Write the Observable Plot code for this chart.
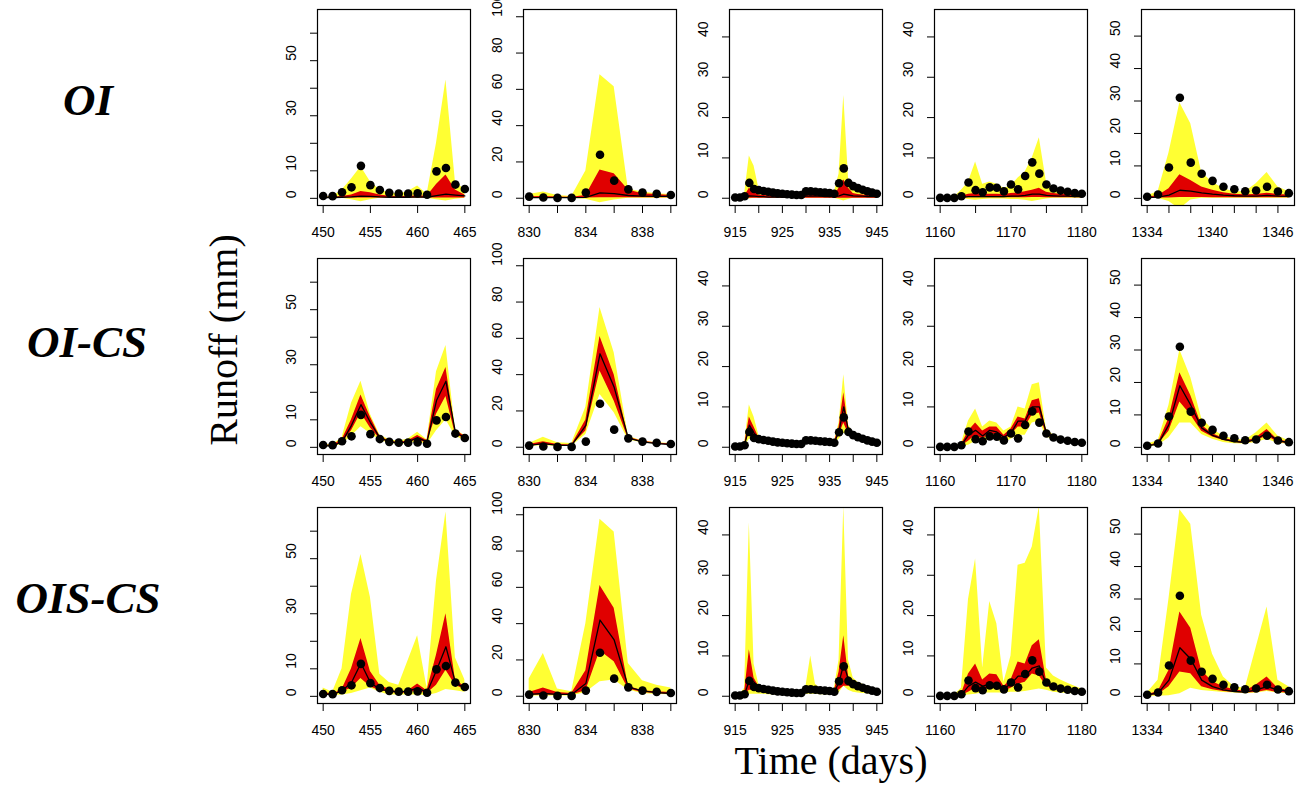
<!DOCTYPE html>
<html>
<head>
<meta charset="utf-8">
<script src="https://cdn.jsdelivr.net/npm/d3@7"></script>
<script src="https://cdn.jsdelivr.net/npm/@observablehq/plot@0.6"></script>
<style>
  body { margin: 0; background: #fff; }
  #wrap { position: relative; width: 1305px; height: 785px; overflow: hidden; background: #fff; }
  .lbl { position: absolute; font-family: "Liberation Serif", "Times New Roman", serif; line-height: 1; white-space: nowrap; color: #000; }
  .row { font-weight: bold; font-style: italic; font-size: 45px; transform: translate(-50%, -50%); }
  .axt { font-size: 40px; }
</style>
</head>
<body>
<div id="wrap">
  <div class="lbl row" style="left:88px; top:100px;">OI</div>
  <div class="lbl row" style="left:87px; top:342px;">OI-CS</div>
  <div class="lbl row" style="left:88px; top:598px;">OIS-CS</div>
  <div class="lbl axt" style="left:224px; top:340px; transform: translate(-50%, -50%) rotate(-90deg);">Runoff (mm)</div>
  <div class="lbl axt" style="left:831px; top:761px; transform: translate(-50%, -50%);">Time (days)</div>
</div>
<script>
// ---------- Data ----------
const methods = ["OI", "OI-CS", "OIS-CS"];

// Column 1: days 450-465
const days_450 = [450,451,452,453,454,455,456,457,458,459,460,461,462,463,464,465];
const obs_450  = [0.85,0.8,2.2,4,11.8,4.8,3,2,1.7,1.7,1.8,1.3,9.8,11,5,3.4];
const OI_450_mid   = [0.3,0.3,0.4,0.5,0.8,0.7,0.5,0.4,0.4,0.4,0.5,0.4,1.0,1.5,1.2,0.9];
const OI_450_redLo = [0.1,0.1,0.1,0.1,0.1,0.1,0.1,0.1,0.1,0.1,0.1,0.1,0.1,0.1,0.1,0.1];
const OI_450_redHi = [0.4,0.4,0.7,1.2,2.5,2,1.2,0.8,0.7,0.7,0.9,0.8,5,8.5,3,1.2];
const OI_450_yelLo = [0,0,0,-0.5,-1.2,-0.5,0,0,0,0,0,0,-0.5,-1,-0.3,0];
const OI_450_yelHi = [0.6,0.6,3,7,11.5,6,3,2,1.5,2.5,4.5,1.5,20,43,6,3];
const OICS_450_mid   = [0.5,0.5,2,8,15.5,9,3.5,2,1.5,2,3.5,2,17,24,5.5,3.5];
const OICS_450_redLo = [0.3,0.3,1.5,6,12.5,7,3,1.8,1.3,1.7,2.8,1.5,12,18.5,4.8,3];
const OICS_450_redHi = [0.8,0.8,2.8,10,19,11,4,2.3,1.8,2.4,4.3,2.5,21,29,6.2,4];
const OICS_450_yelLo = [0.2,0.2,1,4,7.5,5,2.5,1.5,1,1.3,2,1,6,10,4,2.5];
const OICS_450_yelHi = [1,1,3.5,16,24,12,4.5,2.8,2.2,3,5.5,2.8,27.5,37,6.5,4.2];
const OISCS_450_mid   = [0.8,0.6,2,5,12,5,2.5,2,1.5,2,3,1.5,9.5,18,5,3];
const OISCS_450_redLo = [0.6,0.5,1.5,3,6.5,3.5,2,1.5,1,1.2,2,1,4,9.5,4,2.5];
const OISCS_450_redHi = [1.5,0.8,2.5,10,21,9,4,2.5,1.5,2,4.5,2,15,30,6,3.5];
const OISCS_450_yelLo = [0.5,0.3,0.5,1,2,3,1.5,0.5,0.5,0.5,0.5,0.3,1,2.5,2,1.5];
const OISCS_450_yelHi = [3,1.5,10,37,51.5,36,8,5,4,13,22,3,42,67,14,6];

// Column 2: days 830-840
const days_830 = [830,831,832,833,834,835,836,837,838,839,840];
const obs_830  = [0.9,0.4,0.2,0.2,3.1,24,9.7,4.9,3.1,2.4,1.8];
const OI_830_mid   = [0.3,0.3,0.3,0.3,0.5,3,2.5,1.5,1.2,1,1];
const OI_830_redLo = [0,0,0,0,0.1,0.3,0.3,0.3,0.3,0.3,0.3];
const OI_830_redHi = [0.8,1,0.7,0.5,1.5,15.5,13.5,4.5,2.5,2,1.5];
const OI_830_yelLo = [0,0,0,0,-0.5,-2.5,-1,0,0,0,0];
const OI_830_yelHi = [2,3.5,1.5,1,15,68,61.5,5,3.5,2.5,2];
const OICS_830_mid   = [1,2,1,1,12,51.5,33,5,3,2,1.5];
const OICS_830_redLo = [0.7,1.2,0.8,0.8,9,42,25.5,4.5,2.7,1.8,1.3];
const OICS_830_redHi = [1.5,3,1.5,1.3,15,61,40,5.5,3.3,2.3,1.8];
const OICS_830_yelLo = [0.5,0.8,0.5,0.5,7,29,19,4,2.5,1.6,1.2];
const OICS_830_yelHi = [2,5.5,2.5,2,22,77,52,6,3.5,2.5,2];
const OISCS_830_mid   = [1,1.5,1,1,7,42,31,5,3,2,1.5];
const OISCS_830_redLo = [0.5,0.7,0.7,0.7,3,25,19,4,2,1.5,1];
const OISCS_830_redHi = [2,4.5,2,1.5,14,61,48.5,5.5,3,2.5,2];
const OISCS_830_yelLo = [0.2,0.2,0.2,0.2,2,8,9,3.5,1.5,1,0.8];
const OISCS_830_yelHi = [9.5,23.5,4,2.5,40,97.5,90.5,18,8.5,6,4.5];

// Column 3: days 915-945
const days_915 = [915,916,917,918,919,920,921,922,923,924,925,926,927,928,929,930,931,932,933,934,935,936,937,938,939,940,941,942,943,944,945];
const obs_915  = [0.2,0.2,0.5,3.8,2.3,2.0,1.8,1.6,1.4,1.2,1.1,1.0,0.9,0.8,0.8,1.7,1.7,1.6,1.5,1.4,1.3,1.1,3.7,7.4,3.8,3.0,2.5,2.1,1.7,1.4,1.1];
const OI_915_mid   = [0.1,0.1,0.2,0.6,0.5,0.4,0.4,0.3,0.3,0.3,0.3,0.3,0.3,0.3,0.3,0.5,0.5,0.5,0.5,0.4,0.4,0.4,0.6,1.0,0.8,0.6,0.5,0.5,0.4,0.4,0.4];
const OI_915_redLo = [0,0,0,0,0,0,0,0,0,0,0,0,0,0,0,0,0,0,0,0,0,0,0,0,0,0,0,0,0,0,0];
const OI_915_redHi = [0.2,0.2,0.5,2.5,1.5,0.8,0.7,0.6,0.6,0.5,0.5,0.5,0.5,0.5,0.5,0.8,0.8,0.8,0.8,0.7,0.7,0.7,2.5,4.5,2.5,1.2,0.9,0.8,0.7,0.7,0.6];
const OI_915_yelLo = [0,0,0,-0.2,0,0,0,0,0,0,0,0,0,0,0,0,0,0,0,0,0,0,-0.3,-0.7,-0.3,0,0,0,0,0,0];
const OI_915_yelHi = [0.3,0.3,1,10.5,8,2.5,1.5,1.2,1.1,1,1,0.9,0.9,0.9,0.9,1.3,1.3,1.2,1.2,1.1,1.1,1.5,6,25.5,5,2,1.5,1.3,1.2,1.1,1];
const OICS_915_mid   = [0.2,0.2,0.5,5.5,3.5,2.1,1.8,1.6,1.4,1.2,1.1,1.0,0.9,0.8,0.8,1.6,1.7,1.6,1.5,1.4,1.3,1.1,4.0,10.0,4.0,3.0,2.5,2.1,1.7,1.4,1.1];
const OICS_915_redLo = [0.1,0.1,0.4,3.5,2.5,1.9,1.7,1.5,1.3,1.1,1.0,0.9,0.8,0.7,0.7,1.5,1.6,1.5,1.4,1.3,1.2,1.0,3.0,6.0,3.3,2.8,2.3,2.0,1.6,1.3,1.0];
const OICS_915_redHi = [0.3,0.3,0.7,7.5,5.0,2.4,2.0,1.8,1.6,1.4,1.3,1.2,1.1,1.0,1.0,1.8,1.9,1.8,1.7,1.6,1.5,1.3,5.0,13.5,5.0,3.3,2.7,2.3,1.9,1.6,1.3];
const OICS_915_yelLo = [0,0,0.2,2.0,2.0,1.7,1.5,1.3,1.2,1.0,0.9,0.8,0.7,0.6,0.6,1.3,1.4,1.3,1.2,1.1,1.0,0.9,2.0,3.5,3.0,2.6,2.1,1.8,1.5,1.2,0.9];
const OICS_915_yelHi = [0.4,0.4,1.0,10.5,7.5,3.0,2.2,2.0,1.8,1.6,1.5,1.4,1.3,1.2,1.2,2.0,2.1,2.0,1.9,1.8,1.7,1.5,6.0,18.0,5.5,3.6,3.0,2.5,2.1,1.8,1.5];
const OISCS_915_mid   = [0.2,0.2,0.5,4,3.5,2.1,1.8,1.6,1.4,1.2,1.1,1.0,0.9,0.8,0.8,1.6,1.7,1.6,1.5,1.4,1.3,1.1,3.5,8,4,3,2.5,2.1,1.7,1.4,1.1];
const OISCS_915_redLo = [0.1,0.1,0.3,1.5,1.5,1.5,1.4,1.2,1.1,1.0,0.9,0.8,0.7,0.6,0.6,1.3,1.4,1.3,1.2,1.1,1.0,0.9,1.5,2.5,2.5,2.4,2.1,1.8,1.4,1.2,0.9];
const OISCS_915_redHi = [0.3,0.3,1,11.5,4.5,2.5,2.2,1.9,1.7,1.5,1.3,1.2,1.1,1.0,1.0,1.9,1.9,1.8,1.7,1.6,1.5,1.3,6,15,5,3.5,2.8,2.4,2,1.6,1.3];
const OISCS_915_yelLo = [0,0,0.1,0.5,0.5,0.5,0.5,0.4,0.4,0.3,0.3,0.3,0.3,0.3,0.3,0.5,0.5,0.5,0.4,0.4,0.4,0.3,0.8,2.5,1.5,1,0.8,0.7,0.6,0.5,0.4];
const OISCS_915_yelHi = [0.3,0.3,2,43,8,3,2.3,2,1.8,1.6,1.5,1.3,1.2,1.1,1.5,2.5,10,3,2,1.8,1.7,2,9,47,9,4.5,3.5,3,2.5,2,1.5];

// Column 4: days 1160-1180
const days_1160 = [1160,1161,1162,1163,1164,1165,1166,1167,1168,1169,1170,1171,1172,1173,1174,1175,1176,1177,1178,1179,1180];
const obs_1160  = [0.1,0.1,0.1,0.5,3.9,2.0,1.5,2.7,2.6,1.7,3.4,2.2,5.5,8.9,6.1,3.4,2.4,1.9,1.6,1.3,1.1];
const OI_1160_mid   = [0.1,0.1,0.1,0.2,0.4,0.4,0.4,0.4,0.4,0.4,0.5,0.5,0.7,1.0,1.0,0.7,0.6,0.5,0.5,0.4,0.4];
const OI_1160_redLo = [0,0,0,0,0.1,0.1,0.1,0.1,0.1,0.1,0.1,0.1,0.1,0.2,0.2,0.1,0.1,0.1,0.1,0.1,0.1];
const OI_1160_redHi = [0.2,0.2,0.2,0.5,1.0,1.2,1.0,1.0,1.0,0.9,1.2,1.3,1.6,2.0,2.5,1.5,1.2,1.0,0.9,0.8,0.8];
const OI_1160_yelLo = [0,0,0,0,-0.3,-0.5,-0.3,-0.2,-0.2,-0.2,-0.3,-0.3,-0.5,-0.8,-0.5,-0.2,0,0,0,0,0];
const OI_1160_yelHi = [0.2,0.2,0.3,2,4,9,3.5,4,3.5,2.5,3,5,6.5,10,15,4,2.5,2,1.6,1.4,1.2];
const OICS_1160_mid   = [0.1,0.1,0.1,0.5,3,4.2,2.8,4.2,3.8,2.5,3.5,6.5,6.5,10,10,3.5,2.5,2.0,1.6,1.3,1.1];
const OICS_1160_redLo = [0.05,0.05,0.05,0.4,1.5,3,2,3.5,3,2,3,5,5,8,8.5,3,2.2,1.8,1.5,1.2,1.0];
const OICS_1160_redHi = [0.15,0.15,0.15,0.7,4,6,4,5,5,3,4.5,7.5,7,11.5,12,4,2.8,2.2,1.8,1.5,1.2];
const OICS_1160_yelLo = [0,0,0,0.2,0.5,1.5,1,2,2,1,2,3,3,6,6.5,2.5,2,1.6,1.3,1.1,0.9];
const OICS_1160_yelHi = [0.2,0.2,0.3,1,6.5,9.5,5,6.5,6,4,5,10,9.5,15.5,16,4.5,3,2.4,2,1.6,1.4];
const OISCS_1160_mid   = [0.1,0.1,0.1,0.4,2.5,3.5,2.5,3,3,2,3,5,5,7,7.5,3,2.2,1.8,1.5,1.2,1.0];
const OISCS_1160_redLo = [0,0,0,0.2,1,2,1.5,2,2,1.2,2,3,3.5,5.5,5,2.5,1.8,1.5,1.2,1,0.9];
const OISCS_1160_redHi = [0.1,0.1,0.2,0.5,5.5,8,4,5.5,5.3,2.5,4,8.5,8,12.5,14,4,2.5,2,1.7,1.4,1.2];
const OISCS_1160_yelLo = [0,0,0,0.1,0.3,0.5,0.8,0.8,0.8,0.8,1,1,1.2,1.5,1.8,1.5,1,0.8,0.7,0.6,0.5];
const OISCS_1160_yelHi = [0.1,0.1,0.3,2,24,34,7,23.5,18,3.5,10,32.5,33,37,47,7,5,4,3.2,2.5,1.8];

// Column 5: days 1334-1347
const days_1334 = [1334,1335,1336,1337,1338,1339,1340,1341,1342,1343,1344,1345,1346,1347];
const obs_1334  = [0.5,1.2,9.5,31,11,7.6,5.4,3.6,2.8,2.2,2.4,3.6,2.1,1.6];
const OI_1334_mid   = [0.2,0.4,1,2.5,2.2,1.7,1.3,1,0.8,0.7,0.7,0.9,0.7,0.6];
const OI_1334_redLo = [0,0.1,0.1,0.3,0.3,0.3,0.2,0.2,0.2,0.2,0.2,0.2,0.2,0.2];
const OI_1334_redHi = [0.4,0.8,3,7.3,5.5,3.5,2.5,1.7,1.3,1.1,1.2,1.6,1.2,1];
const OI_1334_yelLo = [0,0,-1,-3.3,-0.5,0,0,0,0,0,0,0,0,0];
const OI_1334_yelHi = [0.8,2,14,29.5,23,8,5,3,2,2,4.5,8,3.5,2];
const OICS_1334_mid   = [0.5,1,7,19,13,6,3.7,2.5,1.8,1.5,2.5,4.5,2,1.5];
const OICS_1334_redLo = [0.4,0.8,5,14,10,5,3.2,2.1,1.5,1.2,2,3.5,1.5,1.2];
const OICS_1334_redHi = [0.6,1.3,9,23,16,6.8,4.2,2.8,2,1.7,3,5.5,2.3,1.7];
const OICS_1334_yelLo = [0.2,0.5,3,7.5,7.5,4,2.5,1.5,1.1,1,1.5,2.5,1.2,1];
const OICS_1334_yelHi = [1,2,13,30,21.5,9,5.5,3.5,2.5,2.2,4.5,7.5,3.5,2];
const OISCS_1334_mid   = [0.5,1,5,15,11.5,5,3,2,1.5,1.3,2,3,2,1.6];
const OISCS_1334_redLo = [0.2,0.5,3,7.5,7,3,2,1.5,1.2,1,1.2,1.8,1.2,1];
const OISCS_1334_redHi = [0.5,1.5,8,26,21,8,4.5,3,2,1.6,3.5,6,2.5,1.8];
const OISCS_1334_yelLo = [0,0,0.2,0.8,2.5,1.8,1.5,1.2,1,0.8,1,1.5,1,0.8];
const OISCS_1334_yelHi = [1,5,30,57.5,53,25,13,6,3,2.5,15,27.5,5,3];

// Axis ticks and labels per column
const xTicks_450  = [450,455,460,465];           const xLabels_450  = [450,455,460,465];
const xTicks_830  = [830,832,834,836,838,840];   const xLabels_830  = [830,834,838];
const xTicks_915  = [915,920,925,930,935,940,945]; const xLabels_915 = [915,925,935,945];
const xTicks_1160 = [1160,1165,1170,1175,1180];  const xLabels_1160 = [1160,1170,1180];
const xTicks_1334 = [1334,1336,1338,1340,1342,1344,1346]; const xLabels_1334 = [1334,1340,1346];
const yTicks_450  = [0,10,20,30,40,50,60];  const yLabels_450  = [0,10,30,50];
const yTicks_830  = [0,20,40,60,80,100];    const yLabels_830  = [0,20,40,60,80,100];
const yTicks_915  = [0,10,20,30,40];        const yLabels_915  = [0,10,20,30,40];
const yTicks_1160 = [0,10,20,30,40];        const yLabels_1160 = [0,10,20,30,40];
const yTicks_1334 = [0,10,20,30,40,50];     const yLabels_1334 = [0,10,20,30,40,50];

// ---------- Layout / style ----------
const YELLOW = "#ffff33";
const RED = "#e00000";
const ML = 46, MR = 6, MT = 9, MB = 46;
const BOXW = 153, BOXH = 196;
const colLeft = [317, 523, 729, 934, 1141];
const rowTop = [9, 258, 507];
const TICKFONT = 14;

const columns = [
  {days: days_450,  obs: obs_450,  xd: [449.4, 465.6],   yd: [-2.6, 68.6], xt: xTicks_450,  xl: xLabels_450,  yt: yTicks_450,  yl: yLabels_450},
  {days: days_830,  obs: obs_830,  xd: [829.6, 840.4],   yd: [-4, 104],    xt: xTicks_830,  xl: xLabels_830,  yt: yTicks_830,  yl: yLabels_830},
  {days: days_915,  obs: obs_915,  xd: [913.8, 946.2],   yd: [-1.8, 46.8], xt: xTicks_915,  xl: xLabels_915,  yt: yTicks_915,  yl: yLabels_915},
  {days: days_1160, obs: obs_1160, xd: [1159.2, 1180.8], yd: [-1.8, 46.8], xt: xTicks_1160, xl: xLabels_1160, yt: yTicks_1160, yl: yLabels_1160},
  {days: days_1334, obs: obs_1334, xd: [1333.48, 1347.52], yd: [-2.2, 58.2], xt: xTicks_1334, xl: xLabels_1334, yt: yTicks_1334, yl: yLabels_1334}
];

const series = [
  [
    [OI_450_mid, OI_450_redLo, OI_450_redHi, OI_450_yelLo, OI_450_yelHi],
    [OI_830_mid, OI_830_redLo, OI_830_redHi, OI_830_yelLo, OI_830_yelHi],
    [OI_915_mid, OI_915_redLo, OI_915_redHi, OI_915_yelLo, OI_915_yelHi],
    [OI_1160_mid, OI_1160_redLo, OI_1160_redHi, OI_1160_yelLo, OI_1160_yelHi],
    [OI_1334_mid, OI_1334_redLo, OI_1334_redHi, OI_1334_yelLo, OI_1334_yelHi]
  ],
  [
    [OICS_450_mid, OICS_450_redLo, OICS_450_redHi, OICS_450_yelLo, OICS_450_yelHi],
    [OICS_830_mid, OICS_830_redLo, OICS_830_redHi, OICS_830_yelLo, OICS_830_yelHi],
    [OICS_915_mid, OICS_915_redLo, OICS_915_redHi, OICS_915_yelLo, OICS_915_yelHi],
    [OICS_1160_mid, OICS_1160_redLo, OICS_1160_redHi, OICS_1160_yelLo, OICS_1160_yelHi],
    [OICS_1334_mid, OICS_1334_redLo, OICS_1334_redHi, OICS_1334_yelLo, OICS_1334_yelHi]
  ],
  [
    [OISCS_450_mid, OISCS_450_redLo, OISCS_450_redHi, OISCS_450_yelLo, OISCS_450_yelHi],
    [OISCS_830_mid, OISCS_830_redLo, OISCS_830_redHi, OISCS_830_yelLo, OISCS_830_yelHi],
    [OISCS_915_mid, OISCS_915_redLo, OISCS_915_redHi, OISCS_915_yelLo, OISCS_915_yelHi],
    [OISCS_1160_mid, OISCS_1160_redLo, OISCS_1160_redHi, OISCS_1160_yelLo, OISCS_1160_yelHi],
    [OISCS_1334_mid, OISCS_1334_redLo, OISCS_1334_redHi, OISCS_1334_yelLo, OISCS_1334_yelHi]
  ]
];

function makePanel(col, s) {
  const [mid, rl, rh, yl, yh] = s;
  const data = col.days.map((d, i) => ({day: d, mid: mid[i], rl: rl[i], rh: rh[i], yl: yl[i], yh: yh[i]}));
  const obs = col.days.map((d, i) => ({day: d, q: col.obs[i]}));
  return Plot.plot({
    width: ML + BOXW + MR,
    height: MT + BOXH + MB,
    marginLeft: ML, marginRight: MR, marginTop: MT, marginBottom: MB,
    x: {domain: col.xd},
    y: {domain: col.yd},
    style: {background: "transparent", fontFamily: "'Liberation Sans', Arial, sans-serif", fontSize: TICKFONT + "px", color: "#000", overflow: "visible"},
    marks: [
      Plot.areaY(data, {x: "day", y1: "yl", y2: "yh", fill: YELLOW, clip: true}),
      Plot.areaY(data, {x: "day", y1: "rl", y2: "rh", fill: RED, clip: true}),
      Plot.lineY(data, {x: "day", y: "mid", stroke: "#000", strokeWidth: 1.3, clip: true}),
      Plot.dot(obs, {x: "day", y: "q", r: 4.3, fill: "#000"}),
      Plot.frame({stroke: "#000", strokeWidth: 1.2}),
      Plot.axisX({ticks: col.xt, tickSize: 8, tickPadding: 14, label: null, fontSize: TICKFONT,
                  tickFormat: d => col.xl.includes(d) ? String(d) : ""}),
      Plot.axisY({ticks: col.yt, tickSize: 7, label: null, tickFormat: () => ""}),
      Plot.text(col.yl, {y: d => d, text: d => String(d), frameAnchor: "left", dx: -26, rotate: -90, fontSize: TICKFONT, fill: "#000"})
    ]
  });
}

const wrap = document.getElementById("wrap");
for (let r = 0; r < 3; r++) {
  for (let c = 0; c < 5; c++) {
    const svg = makePanel(columns[c], series[r][c]);
    svg.style.position = "absolute";
    svg.style.left = (colLeft[c] - ML) + "px";
    svg.style.top = (rowTop[r] - MT) + "px";
    wrap.appendChild(svg);
  }
}
</script>
</body>
</html>
